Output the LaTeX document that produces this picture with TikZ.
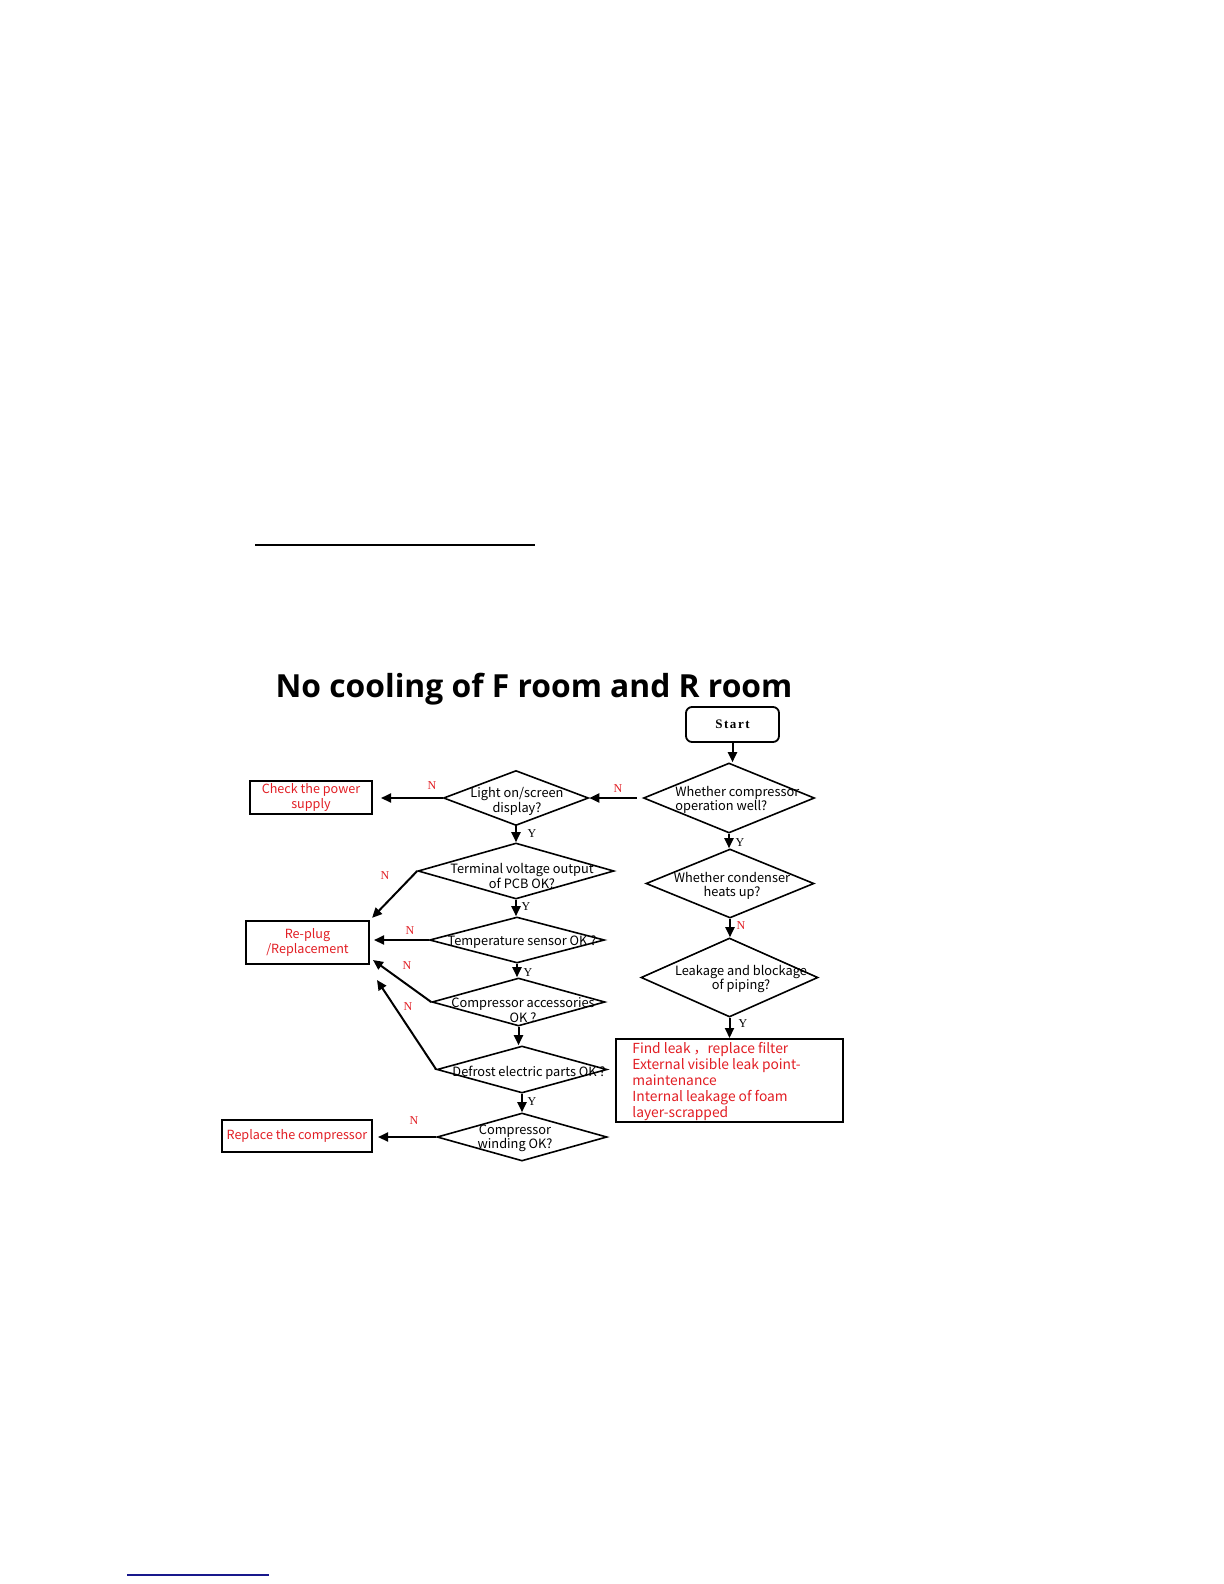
\documentclass[tikz,border=0pt]{standalone}
\usepackage{fontspec}
\usetikzlibrary{shapes.geometric,arrows.meta}
\setmainfont{Liberation Serif}
\newfontfamily\cjk{Noto Sans CJK SC}
\newfontfamily\ttl{Open Sans}
\newfontfamily\stf[LetterSpace=12]{Liberation Serif}
\definecolor{ared}{RGB}{226,30,36}
\definecolor{anavy}{RGB}{24,24,140}
\begin{document}
\begin{tikzpicture}[x=0.5bp,y=-0.5bp,
 dia/.style={draw, diamond, inner sep=0pt, line width=0.8bp},
 box/.style={draw, rectangle, inner sep=0pt, line width=1bp, font=\cjk\fontsize{6.3bp}{7.4bp}\selectfont, text=ared, align=center},
 arr/.style={-{Triangle[length=5bp,width=4.5bp]}, line width=1bp},
 txt/.style={font=\cjk\fontsize{6.4bp}{7.3bp}\selectfont, inner sep=0pt, align=center},
 nl/.style={font=\fontsize{6bp}{6bp}\selectfont, text=ared, inner sep=0pt},
 yl/.style={font=\fontsize{6bp}{6bp}\selectfont, inner sep=0pt}]
\useasboundingbox[fill=white] (0,0) rectangle (1224,1584);
% page rules
\draw[line width=1.25bp] (255,545) -- (535,545);
\draw[anavy, line width=0.8bp] (127,1575) -- (269,1575);
% title
\node[font=\ttl\bfseries\fontsize{15.9bp}{18bp}\selectfont, anchor=base, inner sep=0pt] (title) at (534,697) {No cooling of F room and R room};
% start
\node[draw, rounded corners=3bp, line width=0.9bp, minimum width=46.5bp, minimum height=17.5bp, inner sep=0pt, font=\stf\bfseries\fontsize{6.5bp}{7bp}\selectfont] (start) at (732.5,724.5) {Start};
% diamonds
\node[dia, minimum width=72.5bp, minimum height=27.5bp] (light) at (516,798) {};
\node[dia, minimum width=98bp, minimum height=28bp] (term) at (516,871) {};
\node[dia, minimum width=87.5bp, minimum height=23bp] (temp) at (517,940) {};
\node[dia, minimum width=86.5bp, minimum height=24bp] (acc) at (518.5,1002) {};
\node[dia, minimum width=85bp, minimum height=23.5bp] (defr) at (522,1069.5) {};
\node[dia, minimum width=85bp, minimum height=24bp] (wind) at (522,1137) {};
\node[dia, minimum width=85.5bp, minimum height=35bp] (comp) at (729,798) {};
\node[dia, minimum width=84bp, minimum height=34.5bp] (cond) at (730,883.5) {};
\node[dia, minimum width=88.5bp, minimum height=39.5bp] (leak) at (729.5,977.5) {};
% diamond texts
\node[txt] (tlight) at (517,801.5) {Light on/screen\\display?};
\node[txt] (tterm) at (522,876) {Terminal voltage output\\of PCB OK?};
\node[txt] (ttemp) at (522,942) {Temperature sensor OK ?};
\node[txt] (tacc) at (523,1010) {Compressor accessories\\OK ?};
\node[txt] (tdefr) at (529,1073) {Defrost electric parts OK ?};
\node[txt] (twind) at (515,1138.5) {Compressor\\winding OK?};
\node[txt, align=left, anchor=west] (tcomp) at (675,800) {Whether compressor\\operation well?};
\node[txt] (tcond) at (732,886) {Whether condenser\\heats up?};
\node[txt] (tleak) at (741,979) {Leakage and blockage\\of piping?};
% boxes
\node[box, minimum width=61bp, minimum height=16.5bp] (power) at (311,797.5) {Check the power\\supply};
\node[box, minimum width=61.5bp, minimum height=21.5bp] (replug) at (307.5,942.5) {Re-plug\\/Replacement};
\node[box, minimum width=75bp, minimum height=16bp] (repl) at (297,1136) {Replace the compressor};
\node[box, minimum width=113.5bp, minimum height=41.5bp] (find) at (729.5,1080.5) {};
\node[txt, text=ared, align=left, anchor=west, font=\cjk\fontsize{6.9bp}{8bp}\selectfont] (tfind) at (632,1082) {Find leak ，replace filter\\External visible leak point-\\maintenance\\Internal leakage of foam\\layer-scrapped};
% free ends
\coordinate (r2) at (373,960);
\coordinate (r3) at (377,980);
% connectors
\draw[arr] (start.south) -- (start.south |- comp.north);
\draw[arr] (comp.south) -- (comp.south |- cond.north);
\draw[arr] (cond.south) -- (cond.south |- leak.north);
\draw[arr] (leak.south) -- (leak.south |- find.north);
\draw[arr, shorten <=3bp] (comp.west) -- (comp.west -| light.east);
\draw[arr, shorten >=4bp] (light.west) -- (light.west -| power.east);
\draw[arr] (light.south) -- (light.south |- term.north);
\draw[arr, shorten >=1.5bp] (term.west) -- (replug.north east);
\draw[arr] (term.south) -- (term.south |- temp.north);
\draw[arr, shorten >=2bp] (temp.west) -- (temp.west -| replug.east);
\draw[arr] (temp.south) -- (temp.south |- acc.north);
\draw[arr] (acc.west) -- (r2);
\draw[arr] (acc.south) -- (acc.south |- defr.north);
\draw[arr] (defr.west) -- (r3);
\draw[arr] (defr.south) -- (defr.south |- wind.north);
\draw[arr, shorten >=2.5bp] (wind.west) -- (wind.west -| repl.east);
% labels
\node[nl] (n1) at (432,786) {N};
\node[nl] (n2) at (618,789) {N};
\node[nl] (n3) at (385,876) {N};
\node[nl] (n4) at (410,931) {N};
\node[nl] (n5) at (407,966) {N};
\node[nl] (n6) at (408,1007) {N};
\node[nl] (n7) at (414,1121) {N};
\node[nl] (n8) at (741,926) {N};
\node[yl] (y1) at (532,834) {Y};
\node[yl] (y2) at (526,907) {Y};
\node[yl] (y3) at (528,973) {Y};
\node[yl] (y4) at (532,1102) {Y};
\node[yl] (y5) at (740,843) {Y};
\node[yl] (y6) at (743,1024) {Y};
\end{tikzpicture}
\end{document}
